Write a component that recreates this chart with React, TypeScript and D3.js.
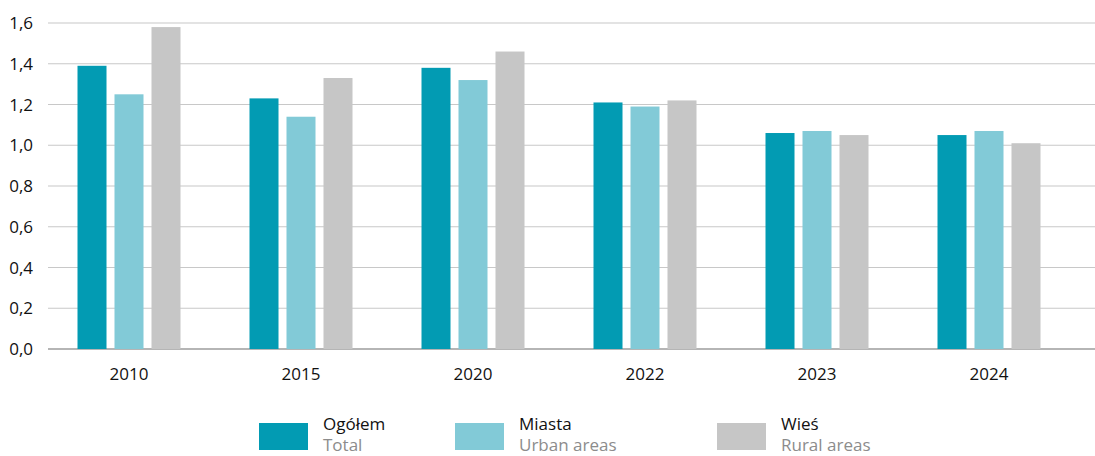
import React from 'react';
import * as d3 from 'd3';

const years = ['2010', '2015', '2020', '2022', '2023', '2024'];
const seriesKeys = ['total', 'urban', 'rural'];
const totalValues = [1.39, 1.23, 1.38, 1.21, 1.06, 1.05];
const urbanValues = [1.25, 1.14, 1.32, 1.19, 1.07, 1.07];
const ruralValues = [1.58, 1.33, 1.46, 1.22, 1.05, 1.01];
const yTicks = [0, 0.2, 0.4, 0.6, 0.8, 1.0, 1.2, 1.4, 1.6];
const legendTitles = ['Ogółem', 'Miasta', 'Wieś'];
const legendSubtitles = ['Total', 'Urban areas', 'Rural areas'];

const colors = ['#029bb3', '#82cad7', '#c6c6c6'];
const font = '"Open Sans", "Noto Sans", sans-serif';

const W = 1095;
const H = 456;

const App = () => {
  const valuesBySeries = [totalValues, urbanValues, ruralValues];

  const y = d3.scaleLinear().domain([0, 1.6]).range([349, 23]);
  const x0 = d3.scaleBand<string>().domain(years).range([43, 1075]).padding(0);
  const x1 = d3.scaleBand<string>().domain(seriesKeys).range([-51.5, 51.5]).paddingInner(0.216);

  const locale = d3.formatLocale({ decimal: ',', thousands: ' ', grouping: [3], currency: ['', ' zł'] });
  const fmt = locale.format('.1f');

  // legend swatch positions (left edge)
  const legendX = [259, 455, 717];

  return (
    <svg width={W} height={H} style={{ position: 'absolute', left: 0, top: 0, background: '#fff' }}>
      <g>
        {yTicks.map(t => (
          <g key={t}>
            <line x1={48} x2={W} y1={y(t)} y2={y(t)}
              stroke={t === 0 ? '#9c9c9c' : '#c8c8c8'} strokeWidth={t === 0 ? 1.5 : 1.2} />
            <text x={33} y={y(t)} dy="0.36em" textAnchor="end"
              fontFamily={font} fontSize={17} fill="#111">{fmt(t)}</text>
          </g>
        ))}
      </g>
      <g>
        {years.map((yr, i) => (
          <g key={yr} transform={`translate(${x0(yr)! + x0.bandwidth() / 2},0)`}>
            {seriesKeys.map((k, j) => {
              const v = valuesBySeries[j][i];
              return (
                <rect key={k} x={x1(k)!} width={x1.bandwidth()} y={y(v)} height={y(0) - y(v)}
                  fill={colors[j]} />
              );
            })}
            <text y={380} textAnchor="middle" fontFamily={font} fontSize={17} fill="#111">{yr}</text>
          </g>
        ))}
      </g>
      <g>
        {legendTitles.map((t, i) => (
          <g key={t} transform={`translate(${legendX[i]},0)`}>
            <rect x={0} y={423} width={49} height={27} fill={colors[i]} />
            <text x={64} y={430} fontFamily={font} fontSize={17} fill="#111">{t}</text>
            <text x={64} y={451} fontFamily={font} fontSize={17} fill="#8c8c8c">{legendSubtitles[i]}</text>
          </g>
        ))}
      </g>
    </svg>
  );
};

export default App;
